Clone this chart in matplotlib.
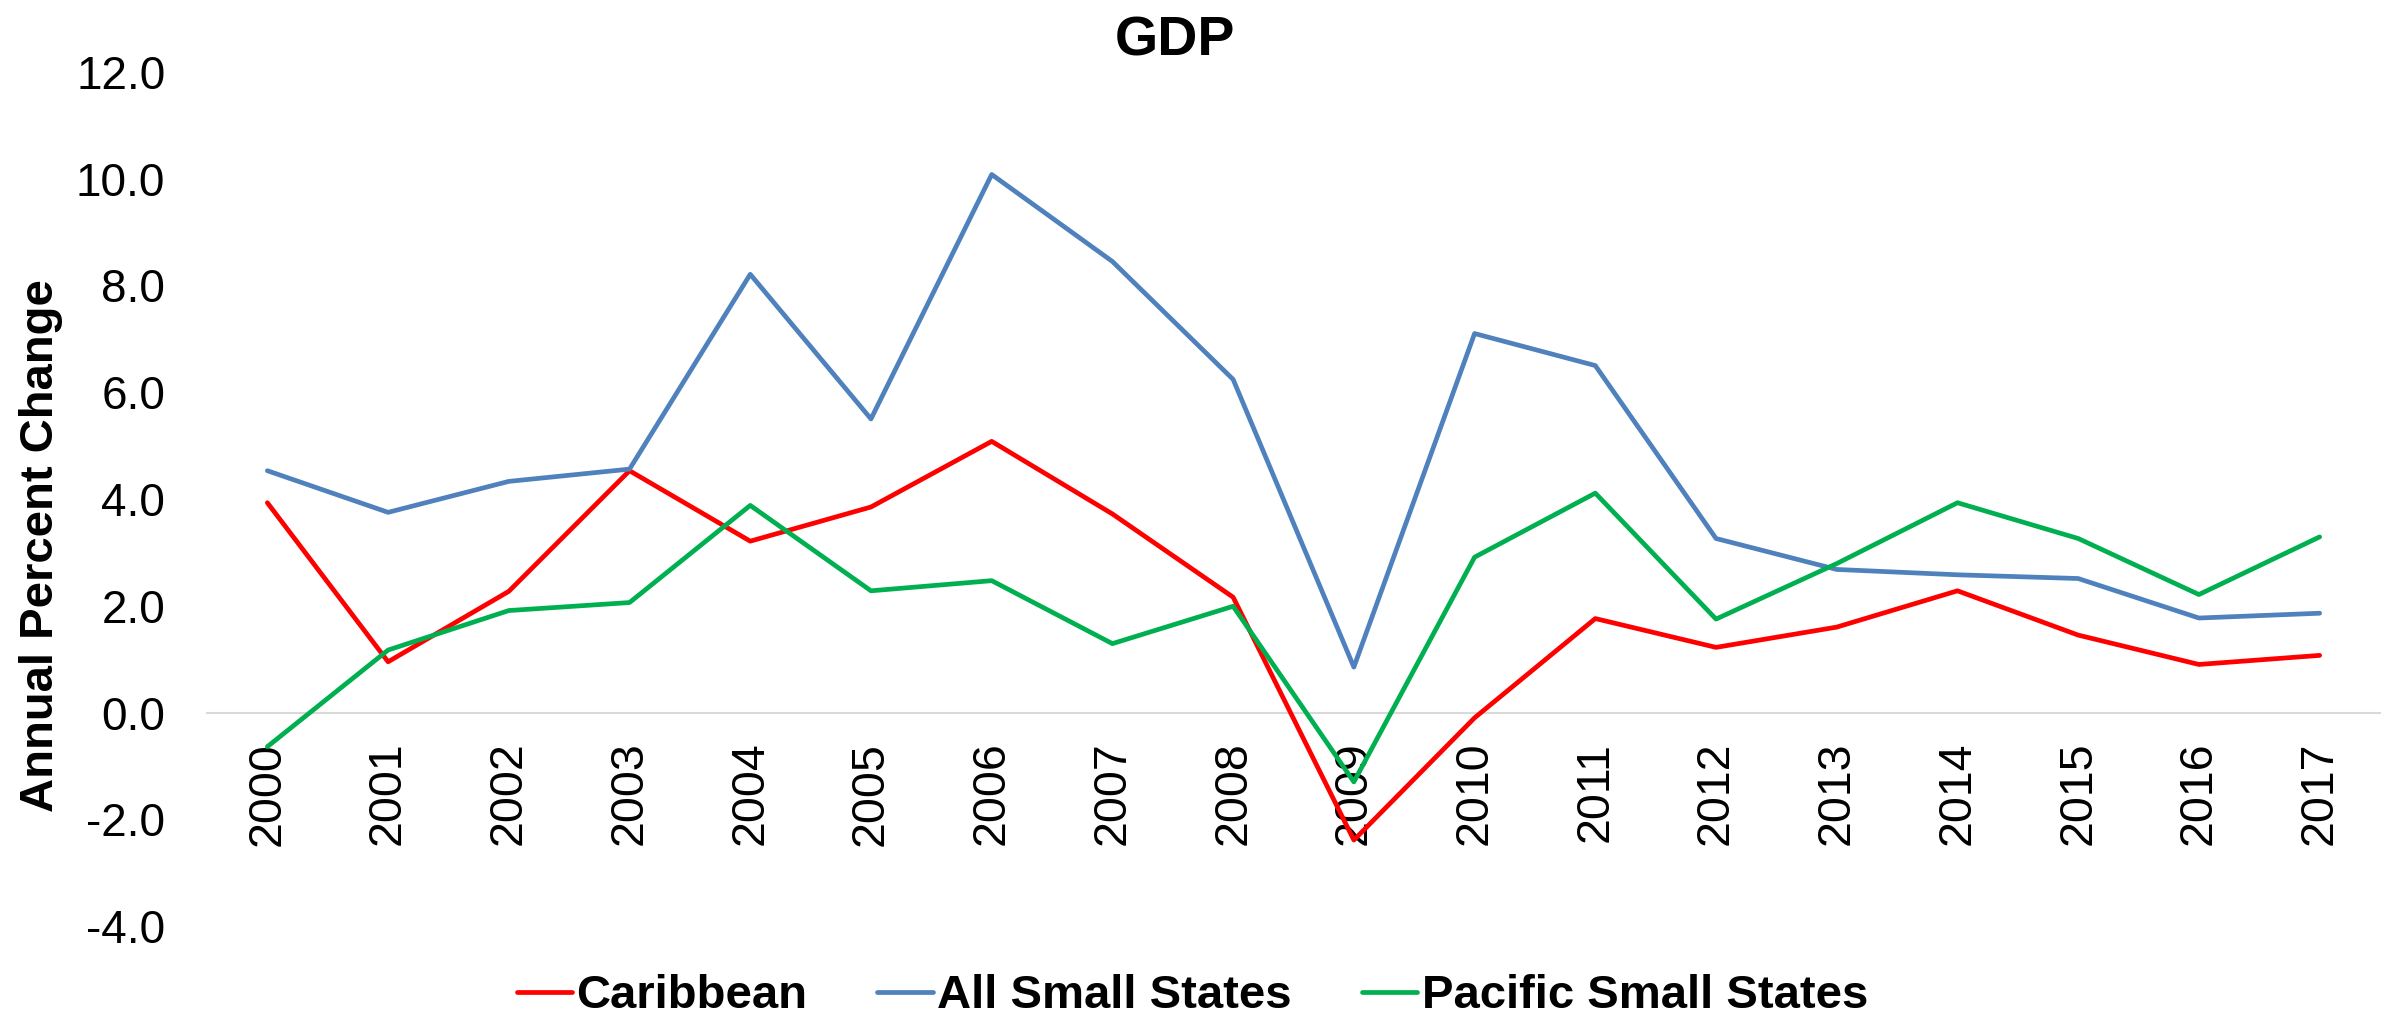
import numpy as np
import matplotlib.pyplot as plt

years = [str(y) for y in range(2000, 2018)]

caribbean = [3.93, 0.95, 2.27, 4.53, 3.21, 3.85, 5.08, 3.72, 2.16, -2.39,
             -0.10, 1.76, 1.22, 1.60, 2.28, 1.45, 0.90, 1.07]
all_small = [4.53, 3.75, 4.33, 4.56, 8.21, 5.50, 10.08, 8.45, 6.24, 0.85,
             7.10, 6.50, 3.26, 2.68, 2.58, 2.51, 1.77, 1.86]
pacific = [-0.64, 1.17, 1.91, 2.06, 3.88, 2.28, 2.47, 1.29, 1.99, -1.30,
           2.91, 4.11, 1.75, 2.79, 3.93, 3.26, 2.21, 3.29]

series = [("Caribbean", caribbean, "#FF0000"),
          ("All Small States", all_small, "#4F81BD"),
          ("Pacific Small States", pacific, "#00B050")]

plt.rcParams['font.family'] = ['Liberation Sans', 'DejaVu Sans']

fig = plt.figure(figsize=(23.92, 10.16), dpi=100)
ax = fig.add_axes([207 / 2392, 90 / 1016, 2173 / 2392, 854 / 1016])

# x axis crosses at zero, like the Excel original
for s in ['top', 'right', 'left']:
    ax.spines[s].set_visible(False)
ax.spines['bottom'].set_position(('data', 0))
ax.spines['bottom'].set_color('#D9D9D9')
ax.spines['bottom'].set_linewidth(1.5)
ax.spines['bottom'].set_zorder(0)

x = np.arange(len(years))
for name, vals, col in series:
    ax.plot(x, vals, color=col, lw=3.4, label=name,
            solid_capstyle='round', solid_joinstyle='round')

ax.set_xlim(-0.5, len(years) - 0.5)
ax.set_ylim(-4, 12)
ax.set_yticks(np.arange(-4, 13, 2))
ax.set_yticklabels([f"{v:.1f}" for v in np.arange(-4, 13, 2)], fontsize=33)
ax.set_xticks(x)
ax.set_xticklabels(years, rotation=90, fontsize=33.5, va='top')
ax.tick_params(axis='both', length=0)
ax.tick_params(axis='y', pad=30)
ax.tick_params(axis='x', pad=21)

fig.text(0.491, 1 - 56 / 1016, "GDP", fontsize=40, fontweight='bold',
         ha='center', va='baseline')
fig.text(0.0172, 0.463, "Annual Percent Change", fontsize=34, fontweight='bold',
         rotation=90, ha='center', va='center')

fig.legend(loc='lower center', bbox_to_anchor=(0.4985, -0.002), ncol=3,
           frameon=False, borderpad=0, borderaxespad=0,
           handlelength=1.17, handletextpad=0.1, columnspacing=1.48,
           prop={'size': 34, 'weight': 'bold'})

fig.savefig('out.png', dpi=100)
